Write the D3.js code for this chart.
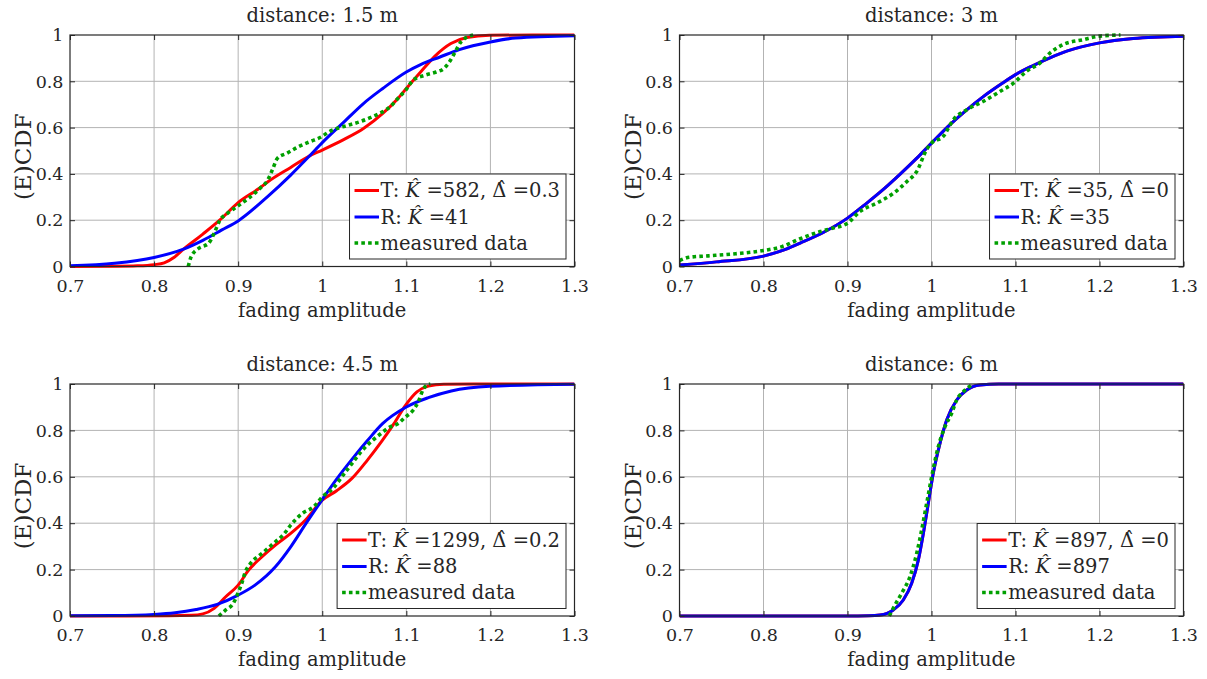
<!DOCTYPE html>
<html><head><meta charset="utf-8">
<script src="https://cdn.jsdelivr.net/npm/d3@7"></script>
<style>
body{margin:0;background:#fff}
svg{display:block}
text{font-family:"DejaVu Serif",serif;fill:#262626}
</style>
</head><body>
<svg id="c" width="1207" height="679"></svg>
<script>
// ---------- data ----------
const xTicks = [0.7, 0.8, 0.9, 1, 1.1, 1.2, 1.3];
const xTickLabels = ["0.7", "0.8", "0.9", "1", "1.1", "1.2", "1.3"];
const yTicks = [0, 0.2, 0.4, 0.6, 0.8, 1];
const yTickLabels = ["0", "0.2", "0.4", "0.6", "0.8", "1"];
const titles = ["distance: 1.5 m", "distance: 3 m", "distance: 4.5 m", "distance: 6 m"];
const kHatT = ["582", "35", "1299", "897"];
const deltaHatT = ["0.3", "0", "0.2", "0"];
const kHatR = ["41", "35", "88", "897"];
const measuredLabel = "measured data";
const xLabel = "fading amplitude";
const yLabel = "(E)CDF";

// distance 1.5 m
const T_15 = [[0.70,0.000],[0.75,0.001],[0.78,0.003],[0.80,0.008],[0.812,0.016],[0.824,0.040],[0.835,0.075],[0.858,0.140],[0.878,0.200],[0.90,0.276],[0.926,0.340],[0.935,0.365],[0.9625,0.428],[0.985,0.478],[1.0,0.503],[1.026,0.549],[1.049,0.596],[1.072,0.661],[1.09,0.726],[1.10,0.769],[1.117,0.840],[1.135,0.912],[1.153,0.963],[1.172,0.989],[1.199,0.999],[1.25,1.0],[1.30,1.0]];
const R_15 = [[0.70,0.003],[0.753,0.014],[0.80,0.039],[0.835,0.075],[0.858,0.113],[0.8806,0.158],[0.90,0.197],[0.935,0.302],[0.9625,0.395],[0.985,0.478],[1.0,0.535],[1.026,0.625],[1.049,0.704],[1.072,0.769],[1.10,0.840],[1.117,0.872],[1.14,0.905],[1.163,0.937],[1.20,0.970],[1.23,0.987],[1.30,0.997]];
const M_15 = [[0.8406,0],[0.8442,0.043],[0.8533,0.079],[0.8647,0.10],[0.8715,0.144],[0.8783,0.20],[0.8874,0.23],[0.8988,0.259],[0.9124,0.295],[0.9261,0.338],[0.9352,0.374],[0.9406,0.417],[0.9466,0.467],[0.9579,0.489],[0.9716,0.517],[0.9852,0.539],[0.9989,0.56],[1.008,0.582],[1.0171,0.596],[1.0307,0.61],[1.0444,0.625],[1.058,0.644],[1.0717,0.668],[1.0808,0.69],[1.0899,0.726],[1.099,0.761],[1.1081,0.805],[1.1217,0.826],[1.1354,0.84],[1.1445,0.855],[1.1513,0.884],[1.1581,0.927],[1.1649,0.97],[1.1795,1.0]];

// distance 3 m
const T_3 = [[0.70,0.006],[0.744,0.020],[0.80,0.045],[0.827,0.075],[0.8437,0.101],[0.8728,0.150],[0.90,0.209],[0.923,0.274],[0.943,0.334],[0.963,0.400],[0.9825,0.468],[1.0,0.533],[1.022,0.613],[1.042,0.677],[1.062,0.735],[1.082,0.786],[1.10,0.829],[1.121,0.868],[1.141,0.901],[1.161,0.930],[1.20,0.966],[1.24,0.985],[1.30,0.995]];
const R_3 = [[0.70,0.006],[0.744,0.020],[0.80,0.045],[0.827,0.075],[0.8437,0.101],[0.8728,0.150],[0.90,0.209],[0.923,0.274],[0.943,0.334],[0.963,0.400],[0.9825,0.468],[1.0,0.533],[1.022,0.613],[1.042,0.677],[1.062,0.735],[1.082,0.786],[1.10,0.829],[1.121,0.868],[1.141,0.901],[1.161,0.930],[1.20,0.966],[1.24,0.985],[1.30,0.995]];
const M_3 = [[0.70,0.026],[0.7115,0.040],[0.7346,0.046],[0.7668,0.055],[0.80,0.069],[0.8221,0.086],[0.8437,0.120],[0.8675,0.151],[0.883,0.166],[0.90,0.187],[0.915,0.238],[0.935,0.274],[0.955,0.317],[0.971,0.368],[0.9825,0.411],[0.994,0.504],[1.0,0.533],[1.014,0.562],[1.026,0.634],[1.042,0.677],[1.062,0.714],[1.082,0.757],[1.098,0.793],[1.113,0.843],[1.129,0.879],[1.141,0.922],[1.157,0.959],[1.181,0.980],[1.20,0.995],[1.225,1.0]];

// distance 4.5 m
const T_45 = [[0.70,0],[0.817,0.001],[0.8443,0.003],[0.858,0.009],[0.8715,0.033],[0.8852,0.083],[0.90,0.133],[0.9125,0.198],[0.9261,0.248],[0.9443,0.306],[0.9625,0.356],[0.9807,0.416],[1.0,0.499],[1.0171,0.540],[1.0353,0.593],[1.0535,0.671],[1.0717,0.758],[1.0853,0.829],[1.099,0.908],[1.1126,0.966],[1.1262,0.991],[1.1445,0.999],[1.20,1.0],[1.30,1.0]];
const R_45 = [[0.70,0.001],[0.75,0.002],[0.80,0.007],[0.825,0.014],[0.85,0.028],[0.875,0.050],[0.90,0.090],[0.92,0.133],[0.9443,0.212],[0.9625,0.298],[0.9807,0.399],[1.0,0.502],[1.0171,0.590],[1.0353,0.675],[1.0535,0.755],[1.0717,0.829],[1.10,0.901],[1.1262,0.941],[1.1535,0.970],[1.1991,0.990],[1.30,0.999]];
const M_45 = [[0.877,0],[0.8852,0.026],[0.8943,0.055],[0.8997,0.098],[0.9043,0.141],[0.9079,0.184],[0.9148,0.227],[0.9261,0.263],[0.9352,0.291],[0.9443,0.32],[0.9534,0.349],[0.9625,0.392],[0.9762,0.442],[0.9898,0.471],[1.0003,0.514],[1.0126,0.55],[1.0262,0.614],[1.0353,0.657],[1.0444,0.70],[1.0535,0.736],[1.0672,0.779],[1.0808,0.815],[1.0899,0.829],[1.099,0.858],[1.1081,0.887],[1.115,0.93],[1.1195,0.973],[1.1241,0.994],[1.1286,1.0]];

// distance 6 m
const T_6 = [[0.70,0],[0.90,0],[0.925,0.001],[0.9387,0.004],[0.9545,0.026],[0.9664,0.069],[0.9764,0.141],[0.9843,0.241],[0.9903,0.356],[0.9962,0.486],[1.0021,0.615],[1.0101,0.744],[1.0181,0.845],[1.03,0.931],[1.0419,0.974],[1.0577,0.996],[1.08,1.0],[1.30,1.0]];
const R_6 = [[0.70,0],[0.90,0],[0.925,0.001],[0.9387,0.004],[0.9545,0.026],[0.9664,0.069],[0.9764,0.141],[0.9843,0.241],[0.9903,0.356],[0.9962,0.486],[1.0021,0.615],[1.0101,0.744],[1.0181,0.845],[1.03,0.931],[1.0419,0.974],[1.0577,0.996],[1.08,1.0],[1.30,1.0]];
const M_6 = [[0.9498,0],[0.9565,0.047],[0.9645,0.098],[0.9744,0.17],[0.9824,0.27],[0.9883,0.371],[0.9943,0.486],[1.0002,0.60],[1.0081,0.73],[1.0161,0.816],[1.024,0.874],[1.03,0.931],[1.0379,0.967],[1.0479,0.996]];

const seriesT = [T_15, T_3, T_45, T_6];
const seriesR = [R_15, R_3, R_45, R_6];
const seriesM = [M_15, M_3, M_45, M_6];

// ---------- layout ----------
const boxes = [
  {l:70,    r:574.5,  t:35,  b:266.5},
  {l:679.5, r:1183.5, t:35,  b:266.5},
  {l:70,    r:574.5,  t:384, b:616},
  {l:679.5, r:1183.5, t:384, b:616}
];
const RED = "#ff0000", BLUE = "#0000ff", GREEN = "#00a000", AX = "#262626";
const FONT = "DejaVu Serif";

const svg = d3.select("#c");

boxes.forEach((bx, i) => {
  const x = d3.scaleLinear().domain([0.7, 1.3]).range([bx.l, bx.r]);
  const y = d3.scaleLinear().domain([0, 1]).range([bx.b, bx.t]);
  const g = svg.append("g");

  // grid
  g.append("g").selectAll("line").data(xTicks.slice(1, -1)).join("line")
    .attr("x1", d => x(d)).attr("x2", d => x(d)).attr("y1", bx.t).attr("y2", bx.b)
    .attr("stroke", "#b3b3b3").attr("stroke-width", 1);
  g.append("g").selectAll("line").data(yTicks.slice(1, -1)).join("line")
    .attr("y1", d => y(d)).attr("y2", d => y(d)).attr("x1", bx.l).attr("x2", bx.r)
    .attr("stroke", "#b3b3b3").attr("stroke-width", 1);

  // clip
  const cid = "clip" + i;
  svg.append("clipPath").attr("id", cid).append("rect")
    .attr("x", bx.l).attr("y", bx.t - 2).attr("width", bx.r - bx.l).attr("height", bx.b - bx.t + 4);
  const plot = g.append("g").attr("clip-path", `url(#${cid})`);
  const line = d3.line().x(d => x(d[0])).y(d => y(d[1])).curve(d3.curveMonotoneX);

  plot.append("path").attr("d", line(seriesT[i])).attr("fill", "none")
    .attr("stroke", RED).attr("stroke-width", 3);
  plot.append("path").attr("d", line(seriesR[i])).attr("fill", "none")
    .attr("stroke", BLUE).attr("stroke-width", 3);
  plot.append("path").attr("d", line(seriesM[i])).attr("fill", "none")
    .attr("stroke", GREEN).attr("stroke-width", 3.6).attr("stroke-dasharray", "3.6,3.2");

  // axes (ticks inward on all four sides)
  const fx = d => xTickLabels[xTicks.indexOf(d)];
  const fy = d => yTickLabels[yTicks.indexOf(d)];
  const ax = g.append("g").attr("transform", `translate(0,${bx.b})`)
    .call(d3.axisBottom(x).tickValues(xTicks).tickFormat(fx).tickSizeInner(-5).tickSizeOuter(0).tickPadding(0));
  const axT = g.append("g").attr("transform", `translate(0,${bx.t})`)
    .call(d3.axisTop(x).tickValues(xTicks).tickFormat("").tickSizeInner(-5).tickSizeOuter(0));
  const ay = g.append("g").attr("transform", `translate(${bx.l},0)`)
    .call(d3.axisLeft(y).tickValues(yTicks).tickFormat(fy).tickSizeInner(-5).tickSizeOuter(0).tickPadding(0));
  const ayR = g.append("g").attr("transform", `translate(${bx.r},0)`)
    .call(d3.axisRight(y).tickValues(yTicks).tickFormat("").tickSizeInner(-5).tickSizeOuter(0));
  [ax, axT, ay, ayR].forEach(a => {
    a.attr("font-family", FONT);
    a.select(".domain").remove();
    a.selectAll("line").attr("stroke", AX).attr("stroke-width", 1);
  });
  ax.selectAll("text").attr("y", 25).attr("dy", null).attr("font-size", 17.5)
    .attr("font-family", FONT).attr("fill", AX);
  ay.selectAll("text").attr("x", -6.5).attr("dy", "0.33em").attr("font-size", 17.5)
    .attr("font-family", FONT).attr("fill", AX);

  // box
  g.append("rect").attr("x", bx.l).attr("y", bx.t).attr("width", bx.r - bx.l).attr("height", bx.b - bx.t)
    .attr("fill", "none").attr("stroke", AX).attr("stroke-width", 1.2);

  // labels
  g.append("text").attr("x", (bx.l + bx.r) / 2).attr("y", bx.t - 13).attr("text-anchor", "middle")
    .attr("font-size", 19.5).attr("fill", "#000").text(titles[i]);
  g.append("text").attr("x", (bx.l + bx.r) / 2).attr("y", bx.b + 50).attr("text-anchor", "middle")
    .attr("font-size", 19.5).text(xLabel);
  g.append("text").attr("transform", `translate(${bx.l - 39},${(bx.t + bx.b) / 2 + 6}) rotate(-90)`)
    .attr("text-anchor", "middle").attr("font-size", 23).text(yLabel);

  // legend
  const lg = g.append("g");
  const rect = lg.append("rect").attr("fill", "#fff").attr("stroke", AX).attr("stroke-width", 1);
  const rows = [
    {color: RED, dash: null, parts: [["T: ", null], ["K\u0302", "italic"], [" =" + kHatT[i] + ", ", null], ["\u0394\u0302", null], [" =" + deltaHatT[i], null]]},
    {color: BLUE, dash: null, parts: [["R: ", null], ["K\u0302", "italic"], [" =" + kHatR[i], null]]},
    {color: GREEN, dash: "3.6,3.2", parts: [[measuredLabel, null]]}
  ];
  const texts = rows.map((row, k) => {
    const t = lg.append("text").attr("font-size", 19.5).attr("fill", "#000");
    row.parts.forEach(p => {
      const s = t.append("tspan").text(p[0]);
      if (p[1]) s.attr("font-style", p[1]);
    });
    return t;
  });
  const tw = d3.max(texts, t => t.node().getComputedTextLength());
  const lh = 85, lw = 31 + tw + 6;
  const lx = bx.r - 8.5 - lw, ly = bx.b - 7.5 - lh;
  rect.attr("x", lx).attr("y", ly).attr("width", lw).attr("height", lh);
  const rowY = [16.5, 43, 69];
  rows.forEach((row, k) => {
    const yy = ly + rowY[k];
    const ln = lg.append("line").attr("x1", lx + 5).attr("x2", lx + 29.5).attr("y1", yy).attr("y2", yy)
      .attr("stroke", row.color).attr("stroke-width", row.dash ? 3.6 : 3);
    if (row.dash) ln.attr("stroke-dasharray", row.dash);
    texts[k].attr("x", lx + 31).attr("y", yy + 6.5);
  });
});
</script>
</body></html>
